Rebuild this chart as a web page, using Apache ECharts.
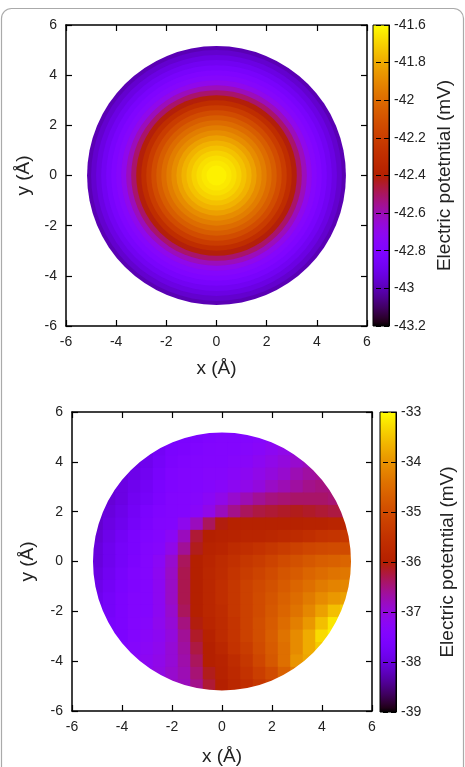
<!DOCTYPE html>
<html>
<head>
<meta charset="UTF-8">
<title>Electric potential</title>
<script src="https://cdn.jsdelivr.net/npm/echarts@6/dist/echarts.min.js"></script>
</head>
<body style="margin:0; background:#fff">
<div id="container" style="width:465px; height:767px"></div>
<script>
// top panel: radially symmetric, outer radius of each ring (Å) and potential (mV)
const ringRadius = [0.2, 0.4, 0.6, 0.8, 1.0, 1.2, 1.4, 1.6, 1.8, 2.0, 2.2, 2.4, 2.6,
    2.8, 3.0, 3.2, 3.4, 3.6, 3.8, 4.0, 4.2, 4.4, 4.6, 4.8, 5.0, 5.16];
const ringPotential = [-41.63, -41.63, -41.65, -41.67, -41.70, -41.74, -41.78, -41.83,
    -41.89, -41.94, -42.00, -42.06, -42.13, -42.21, -42.30, -42.41, -42.51, -42.61,
    -42.70, -42.76, -42.80, -42.84, -42.88, -42.92, -42.96, -43.00];
const topRange = [-43.2, -41.6];

// bottom panel: potential (mV) on a 0.5 Å grid, one row per y, row starts at rowStartX
const rowY = [5, 4.5, 4, 3.5, 3, 2.5, 2, 1.5, 1, 0.5, 0, -0.5, -1, -1.5, -2, -2.5, -3, -3.5, -4, -4.5, -5];
const rowStartX = [-2, -3, -3.5, -4, -4.5, -4.5, -5, -5, -5, -5, -5, -5, -5, -5, -5, -4.5, -4.5, -4, -3.5, -3, -2];
const rowPotential = [
    [-37.65, -37.6, -37.55, -37.5, -37.45, -37.45, -37.4, -37.35, -37.3],
    [-37.9, -37.75, -37.6, -37.55, -37.5, -37.45, -37.4, -37.4, -37.35, -37.3, -37.2, -37.1, -37.0],
    [-37.95, -37.85, -37.7, -37.55, -37.5, -37.45, -37.4, -37.4, -37.35, -37.3, -37.2, -37.1, -37.0, -36.9, -36.8],
    [-38.0, -37.9, -37.8, -37.65, -37.5, -37.45, -37.4, -37.35, -37.35, -37.3, -37.2, -37.1, -37.0, -36.9, -36.75, -36.65, -36.6],
    [-38.05, -37.95, -37.85, -37.75, -37.6, -37.5, -37.45, -37.4, -37.35, -37.3, -37.2, -37.1, -37.0, -36.85, -36.75, -36.65, -36.55, -36.5, -36.5],
    [-38.05, -37.95, -37.8, -37.7, -37.55, -37.45, -37.4, -37.35, -37.25, -37.1, -36.9, -36.75, -36.6, -36.5, -36.45, -36.4, -36.4, -36.4, -36.45],
    [-38.1, -38.0, -37.9, -37.75, -37.6, -37.5, -37.45, -37.4, -37.3, -37.1, -36.8, -36.55, -36.35, -36.25, -36.2, -36.15, -36.1, -36.15, -36.2, -36.25, -36.3],
    [-38.1, -37.95, -37.85, -37.7, -37.55, -37.45, -37.4, -37.15, -36.8, -36.35, -36.05, -35.95, -35.95, -35.95, -35.95, -35.95, -35.95, -35.9, -35.9, -35.85, -35.85],
    [-38.05, -37.9, -37.75, -37.6, -37.5, -37.4, -37.25, -36.8, -36.2, -36.0, -35.95, -35.9, -35.85, -35.85, -35.8, -35.75, -35.7, -35.6, -35.5, -35.45, -35.4],
    [-38.0, -37.85, -37.7, -37.6, -37.45, -37.35, -37.1, -36.6, -36.1, -35.9, -35.85, -35.7, -35.6, -35.5, -35.4, -35.3, -35.2, -35.1, -35.05, -35.0, -35.0],
    [-38.0, -37.85, -37.7, -37.55, -37.4, -37.25, -36.9, -36.35, -36.0, -35.85, -35.7, -35.55, -35.4, -35.3, -35.15, -35.0, -34.9, -34.8, -34.7, -34.65, -34.6],
    [-37.95, -37.8, -37.65, -37.5, -37.4, -37.2, -36.85, -36.3, -36.0, -35.8, -35.65, -35.45, -35.3, -35.15, -35.0, -34.85, -34.75, -34.6, -34.5, -34.4, -34.35],
    [-37.9, -37.75, -37.6, -37.5, -37.4, -37.2, -36.85, -36.3, -36.0, -35.8, -35.6, -35.4, -35.2, -35.05, -34.9, -34.75, -34.6, -34.45, -34.3, -34.2, -34.15],
    [-37.85, -37.7, -37.55, -37.45, -37.4, -37.2, -36.85, -36.3, -36.0, -35.8, -35.6, -35.4, -35.2, -35.0, -34.85, -34.65, -34.5, -34.3, -34.1, -33.95, -33.85],
    [-37.8, -37.7, -37.55, -37.45, -37.4, -37.2, -36.9, -36.35, -36.0, -35.8, -35.65, -35.4, -35.2, -35.0, -34.8, -34.6, -34.4, -34.15, -33.85, -33.55, -33.4],
    [-37.65, -37.55, -37.4, -37.35, -37.15, -36.95, -36.5, -36.05, -35.85, -35.7, -35.45, -35.2, -34.95, -34.75, -34.5, -34.25, -33.95, -33.55, -33.2],
    [-37.6, -37.55, -37.4, -37.3, -37.2, -37.0, -36.6, -36.15, -35.95, -35.7, -35.45, -35.2, -34.95, -34.7, -34.4, -34.1, -33.75, -33.3, -33.1],
    [-37.5, -37.35, -37.25, -37.15, -36.95, -36.65, -36.25, -36.0, -35.8, -35.5, -35.3, -35.0, -34.75, -34.45, -34.1, -33.75, -33.45],
    [-37.3, -37.2, -37.1, -36.95, -36.7, -36.35, -36.0, -35.9, -35.65, -35.4, -35.1, -34.8, -34.45, -34.0, -33.8],
    [-37.15, -37.05, -36.9, -36.75, -36.45, -36.1, -35.95, -35.75, -35.5, -35.25, -35.0, -34.65, -34.3],
    [-36.85, -36.8, -36.55, -36.2, -36.0, -35.8, -35.6, -35.4, -35.2]
];
const bottomRange = [-39, -33];
const discRadius = 5.16;

// gnuplot default pm3d palette (rgbformulae 7,5,15)
const palette = [];
for (let i = 0; i <= 64; i++) {
    const t = i / 64;
    const r = Math.sqrt(t), g = t * t * t, b = Math.max(0, Math.sin(2 * Math.PI * t));
    palette.push('rgb(' + Math.round(r * 255) + ',' + Math.round(g * 255) + ',' + Math.round(b * 255) + ')');
}
const barGradient = {
    type: 'linear', x: 0, y: 0, x2: 0, y2: 1,
    colorStops: palette.map((c, i) => ({offset: 1 - i / 64, color: c})).reverse()
};

const ringData = [];
for (let i = ringRadius.length - 1; i >= 0; i--) {
    ringData.push([0, 0, ringRadius[i], ringPotential[i]]);
}
const cellData = [];
rowPotential.forEach((row, i) => {
    row.forEach((v, j) => cellData.push([rowStartX[i] + 0.5 * j, rowY[i], v]));
});

const font = 'Liberation Sans';
const textColor = '#222';
const nameStyle = {color: textColor, fontSize: 19, fontFamily: font};
const labelStyle = {color: textColor, fontSize: 14, fontFamily: font};

function plotAxes(grid, xGap, yGap) {
    const base = {
        gridIndex: grid, type: 'value', min: -6, max: 6, interval: 2, z: 10,
        axisLine: {onZero: false, lineStyle: {color: '#000', width: 1.5}},
        axisTick: {inside: true, length: 6, lineStyle: {color: '#000', width: 1.2}},
        splitLine: {show: false}
    };
    return {
        x: [
            Object.assign({}, base, {position: 'bottom', axisLabel: Object.assign({margin: 9}, labelStyle),
                name: 'x (Å)', nameLocation: 'middle', nameGap: xGap, nameTextStyle: nameStyle}),
            Object.assign({}, base, {position: 'top', axisLabel: {show: false}})
        ],
        y: [
            Object.assign({}, base, {position: 'left', axisLabel: Object.assign({margin: 9}, labelStyle),
                name: 'y (Å)', nameLocation: 'middle', nameGap: yGap, nameTextStyle: nameStyle}),
            Object.assign({}, base, {position: 'right', axisLabel: {show: false}})
        ]
    };
}

function barAxes(grid, range, step, gap) {
    return {
        x: {gridIndex: grid, type: 'value', min: 0, max: 1, show: false},
        y: {
            gridIndex: grid, type: 'value', position: 'right', min: range[0], max: range[1],
            interval: step, z: 10,
            axisLine: {onZero: false, lineStyle: {color: '#000', width: 1}},
            axisTick: {inside: true, length: 16, lineStyle: {color: '#000', width: 1.2, type: [5, 3]}},
            axisLabel: Object.assign({margin: 5, formatter: v => String(Math.round(v * 10) / 10)}, labelStyle),
            splitLine: {show: false},
            name: 'Electric potetntial (mV)', nameLocation: 'middle', nameRotate: 90, nameGap: gap,
            nameTextStyle: nameStyle
        }
    };
}

const topAxes = plotAxes(0, 33, 29);
const bottomAxes = plotAxes(2, 36, 35);
const topBar = barAxes(1, topRange, 0.2, 46);
const bottomBar = barAxes(3, bottomRange, 1, 42);

function renderBar(params, api) {
    const cs = params.coordSys;
    return {type: 'rect', shape: {x: cs.x, y: cs.y, width: cs.width, height: cs.height},
        style: {fill: barGradient, stroke: '#000', lineWidth: 1}};
}

const option = {
    animation: false,
    backgroundColor: '#fff',
    graphic: [{
        type: 'rect', z: -10, silent: true,
        shape: {x: 1.5, y: 8.5, width: 462, height: 800, r: 10},
        style: {fill: 'none', stroke: '#aaa', lineWidth: 1.2}
    }],
    grid: [
        {left: 66, top: 25, width: 301, height: 301},
        {left: 373, top: 25, width: 16, height: 301},
        {left: 72, top: 412, width: 300, height: 300},
        {left: 380, top: 412, width: 16, height: 300}
    ],
    xAxis: [topAxes.x[0], topAxes.x[1], topBar.x, bottomAxes.x[0], bottomAxes.x[1], bottomBar.x],
    yAxis: [topAxes.y[0], topAxes.y[1], topBar.y, bottomAxes.y[0], bottomAxes.y[1], bottomBar.y],
    visualMap: [
        {show: false, type: 'continuous', seriesIndex: 0, dimension: 3,
            min: topRange[0], max: topRange[1], inRange: {color: palette}},
        {show: false, type: 'continuous', seriesIndex: 2, dimension: 2,
            min: bottomRange[0], max: bottomRange[1], inRange: {color: palette}}
    ],
    series: [
        {
            type: 'custom', xAxisIndex: 0, yAxisIndex: 0, data: ringData,
            renderItem: (params, api) => {
                const c = api.coord([0, 0]);
                return {type: 'circle', shape: {cx: c[0], cy: c[1], r: api.size([api.value(2), 0])[0]},
                    style: {fill: api.visual('color')}};
            }
        },
        {type: 'custom', xAxisIndex: 2, yAxisIndex: 2, data: [[0, 0]], renderItem: renderBar},
        {
            type: 'custom', xAxisIndex: 3, yAxisIndex: 3, data: cellData,
            renderItem: (params, api) => {
                const p = api.coord([api.value(0) - 0.25, api.value(1) + 0.25]);
                const s = api.size([0.5, 0.5]);
                return {type: 'rect', shape: {x: p[0] - 0.5, y: p[1] - 0.5, width: s[0] + 1, height: s[1] + 1},
                    style: {fill: api.visual('color')}};
            }
        },
        {
            // white mask outside the disc, clipped to the plot area
            type: 'custom', xAxisIndex: 3, yAxisIndex: 3, clip: true, data: [[0, 0]],
            renderItem: (params, api) => {
                const c = api.coord([0, 0]);
                return {type: 'ring', shape: {cx: c[0], cy: c[1], r0: api.size([discRadius, 0])[0], r: 400},
                    style: {fill: '#fff'}};
            }
        },
        {type: 'custom', xAxisIndex: 5, yAxisIndex: 5, data: [[0, 0]], renderItem: renderBar}
    ]
};

const chart = echarts.init(document.getElementById('container'));
chart.setOption(option);
</script>
</body>
</html>
